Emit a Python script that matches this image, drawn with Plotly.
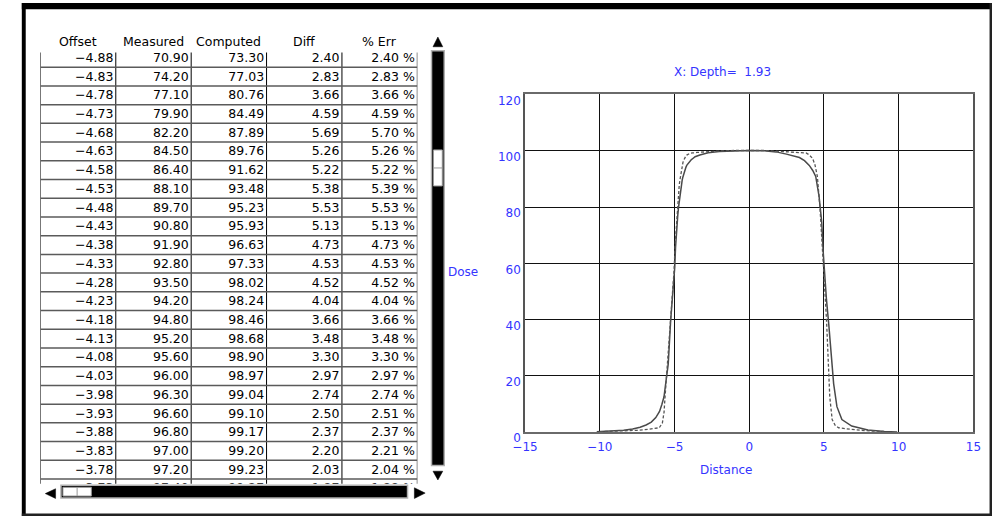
import plotly.graph_objects as go

W, H = 1000, 529
FONT = "DejaVu Sans"
BLUE = "#3434ff"

# ---------------- table data ----------------
offsets = [-4.88, -4.83, -4.78, -4.73, -4.68, -4.63, -4.58, -4.53, -4.48, -4.43, -4.38, -4.33,
           -4.28, -4.23, -4.18, -4.13, -4.08, -4.03, -3.98, -3.93, -3.88, -3.83, -3.78, -3.73]
measured = [70.90, 74.20, 77.10, 79.90, 82.20, 84.50, 86.40, 88.10, 89.70, 90.80, 91.90, 92.80,
            93.50, 94.20, 94.80, 95.20, 95.60, 96.00, 96.30, 96.60, 96.80, 97.00, 97.20, 97.40]
computed = [73.30, 77.03, 80.76, 84.49, 87.89, 89.76, 91.62, 93.48, 95.23, 95.93, 96.63, 97.33,
            98.02, 98.24, 98.46, 98.68, 98.90, 98.97, 99.04, 99.10, 99.17, 99.20, 99.23, 99.27]
diffs = [2.40, 2.83, 3.66, 4.59, 5.69, 5.26, 5.22, 5.38, 5.53, 5.13, 4.73, 4.53,
         4.52, 4.04, 3.66, 3.48, 3.30, 2.97, 2.74, 2.50, 2.37, 2.20, 2.03, 1.87]
pct_err = [2.40, 2.83, 3.66, 4.59, 5.70, 5.26, 5.22, 5.39, 5.53, 5.13, 4.73, 4.53,
           4.52, 4.04, 3.66, 3.48, 3.30, 2.97, 2.74, 2.51, 2.37, 2.21, 2.04, 1.88]
headers = ["Offset", "Measured", "Computed", "Diff", "% Err"]

# ---------------- profile curves ----------------
meas_x = [-10.2, -9.5, -8.4, -7.8, -7.3, -6.9, -6.55, -6.25, -6.0, -5.85, -5.7, -5.55, -5.42,
          -5.26, -5.09, -4.98, -4.93] + offsets[:23] + \
         [-3.62, -3.3, -2.75, -2.0, -1.0, 0.0, 1.0, 1.8, 2.49, 3.0, 3.36, 3.7, 4.02, 4.25, 4.45,
          4.67, 4.85, 4.96, 5.06, 5.17, 5.33, 5.48, 5.65, 5.87, 6.2, 6.86, 7.4, 7.94, 9.04, 9.9]
meas_y = [0.2, 0.4, 0.7, 1.2, 1.8, 2.6, 3.6, 5.2, 7.4, 9.8, 12.6, 18.9, 24.1,
          39.3, 49.4, 58.7, 65.6] + measured[:23] + \
         [97.9, 98.5, 99.3, 99.7, 100.0, 100.1, 100.0, 99.6, 98.8, 98.2, 97.6, 96.5, 94.8, 93.0, 90.9,
          84.0, 74.8, 63.3, 55.2, 47.1, 37.9, 26.4, 17.2, 9.1, 4.5, 2.2, 1.4, 0.8, 0.3, 0.1]

comp_x = [-10.0, -9.0, -8.4, -7.5, -7.0, -6.5, -6.02, -5.81, -5.7, -5.63, -5.48, -5.37, -5.26,
          -5.15, -5.04, -4.95] + offsets[:23] + \
         [-3.5, -3.0, -2.0, -1.0, 0.0, 1.0, 2.0, 2.93, 3.8, 4.0, 4.24, 4.4, 4.56, 4.74, 4.89, 5.04,
          5.17, 5.28, 5.39, 5.55, 5.75, 5.98, 6.86, 8.17, 9.0]
comp_y = [0.2, 0.3, 0.5, 0.7, 0.9, 1.2, 1.6, 3.3, 7.0, 12.6, 24.1, 32.0, 39.1,
          49.4, 56.4, 67.0] + computed[:23] + \
         [99.4, 99.6, 99.9, 100.1, 100.2, 100.1, 99.8, 99.4, 99.2, 98.6, 97.3, 95.0, 90.9, 79.4, 66.7, 55.2,
          40.2, 26.4, 12.6, 4.5, 2.5, 1.6, 1.0, 0.45, 0.3]


def px(x):
    return x / W


def py(y):
    return 1 - y / H


def fmt(v):
    return f"{v:.2f}".replace("-", "\u2212")


fig = go.Figure()

# ---------------- profile chart ----------------
fig.add_trace(go.Scatter(x=meas_x, y=meas_y, mode="lines", name="Measured",
                         line=dict(color="#4a4a4a", width=1.5), hoverinfo="skip"))
fig.add_trace(go.Scatter(x=comp_x, y=comp_y, mode="lines", name="Computed",
                         line=dict(color="#555555", width=1.3, dash="3px,2px"), hoverinfo="skip"))

# ---------------- table as text on its own axes ----------------
n = len(offsets)
rows = list(range(n))
cols = [
    [fmt(v) for v in offsets],
    [fmt(v) for v in measured],
    [fmt(v) for v in computed],
    [fmt(v) for v in diffs],
    [fmt(v) + " %" for v in pct_err],
]
colw = 77.0
for ci, texts in enumerate(cols):
    fig.add_trace(go.Scatter(
        x=[ci + 1 - 2.5 / colw] * n, y=[r + 0.05 for r in rows],
        text=texts, mode="text", textposition="middle left",
        textfont=dict(family=FONT, size=12.5, color="black"),
        xaxis="x2", yaxis="y2", hoverinfo="skip", showlegend=False))

shapes = []
# table grid
for ci in range(len(headers) + 1):
    shapes.append(dict(type="line", xref="x2", yref="y2", x0=ci, x1=ci, y0=-1, y1=n,
                       line=dict(color="black", width=1)))
for r in range(-1, n):
    shapes.append(dict(type="line", xref="x2", yref="y2", x0=0, x1=len(headers), y0=r + 0.5, y1=r + 0.5,
                       line=dict(color="#5a5a5a", width=1.5)))

# window frame
def rect(x0, y0, x1, y1, fill, line=None, lw=0):
    return dict(type="rect", xref="paper", yref="paper", x0=px(x0), x1=px(x1), y0=py(y1), y1=py(y0),
                fillcolor=fill, line=dict(color=line or fill, width=lw), layer="above")

def tri(pts):
    d = "M " + " L ".join(f"{px(a):.5f},{py(b):.5f}" for a, b in pts) + " Z"
    return dict(type="path", xref="paper", yref="paper", path=d, fillcolor="black",
                line=dict(color="black", width=0.5), layer="above")

shapes += [
    rect(9, 2, 1000, 8.5, "black"),
    rect(9, 2, 13, 529, "black"),
    rect(997.5, 2, 1000, 529, "#222222"),
    rect(9, 526.5, 1000, 529, "#222222"),
    # vertical scrollbar
    rect(427.5, 51, 440.5, 477, "black", "#b0b0b0", 1.5),
    rect(429.5, 153, 438.5, 190, "white", "#999999", 1),
    dict(type="line", xref="paper", yref="paper", x0=px(429.5), x1=px(438.5), y0=py(171.5), y1=py(171.5),
         line=dict(color="#999999", width=1), layer="above"),
    tri([(429, 47), (439, 47), (434, 37)]),
    tri([(429, 483), (439, 483), (434, 492)]),
    # horizontal scrollbar
    rect(49, 497.5, 403, 510.5, "black", "#b0b0b0", 1.5),
    rect(51, 499.5, 80, 508.5, "white", "#999999", 1),
    dict(type="line", xref="paper", yref="paper", x0=px(65.5), x1=px(65.5), y0=py(499.5), y1=py(508.5),
         line=dict(color="#999999", width=1), layer="above"),
    tri([(43.5, 501), (43.5, 511), (33, 506)]),
    tri([(410, 500), (410, 511), (421, 505.5)]),
]

annotations = []
for ci, h in enumerate(headers):
    annotations.append(dict(text=h, xref="x2", yref="paper", x=ci + 0.5, y=py(42),
                            showarrow=False, xanchor="center", yanchor="middle",
                            font=dict(family=FONT, size=12.5, color="black")))
annotations += [
    dict(text="X: Depth=\u00a0 1.93", xref="paper", yref="paper", x=px(725), y=py(73),
         showarrow=False, xanchor="center", yanchor="middle", font=dict(family=FONT, size=12, color=BLUE)),
    dict(text="Dose", xref="paper", yref="paper", x=px(459.5), y=py(278),
         showarrow=False, xanchor="center", yanchor="middle", font=dict(family=FONT, size=12, color=BLUE)),
    dict(text="Distance", xref="paper", yref="paper", x=px(728.5), y=py(482),
         showarrow=False, xanchor="center", yanchor="middle", font=dict(family=FONT, size=12, color=BLUE)),
]

fig.update_layout(
    width=W, height=H, margin=dict(l=0, r=0, t=0, b=0),
    paper_bgcolor="white", plot_bgcolor="white", showlegend=False,
    font=dict(family=FONT, size=12, color=BLUE),
    xaxis=dict(domain=[px(523), px(981)], range=[-15, 15], tickmode="array",
               tickvals=[-15, -10, -5, 0, 5, 10, 15],
               ticktext=["\u221215", "\u221210", "\u22125", "0", "5", "10", "15"],
               showgrid=True, gridcolor="#111111", gridwidth=1, zeroline=False,
               showline=True, linecolor="#6a6a6a", linewidth=2, mirror=True,
               ticks="", ticklabelstandoff=2,
               tickfont=dict(family=FONT, size=12, color=BLUE), fixedrange=True),
    yaxis=dict(domain=[py(443), py(96)], range=[0, 120], tickvals=[0, 20, 40, 60, 80, 100, 120],
               showgrid=True, gridcolor="#111111", gridwidth=1, zeroline=False,
               showline=True, linecolor="#555555", linewidth=1.5, mirror=True,
               ticks="", ticklabelstandoff=0, ticklabelshift=6,
               tickfont=dict(family=FONT, size=12, color=BLUE), fixedrange=True),
    xaxis2=dict(domain=[px(28), px(413)], range=[0, 5], visible=False, fixedrange=True, anchor="y2"),
    yaxis2=dict(domain=[py(496), py(53)], range=[22.76, -0.28], visible=False, fixedrange=True, anchor="x2"),
    shapes=shapes, annotations=annotations,
)

fig.write_html("out.html", config={"displayModeBar": False},
               post_script="document.body.style.margin='0';document.body.style.overflow='hidden';")
